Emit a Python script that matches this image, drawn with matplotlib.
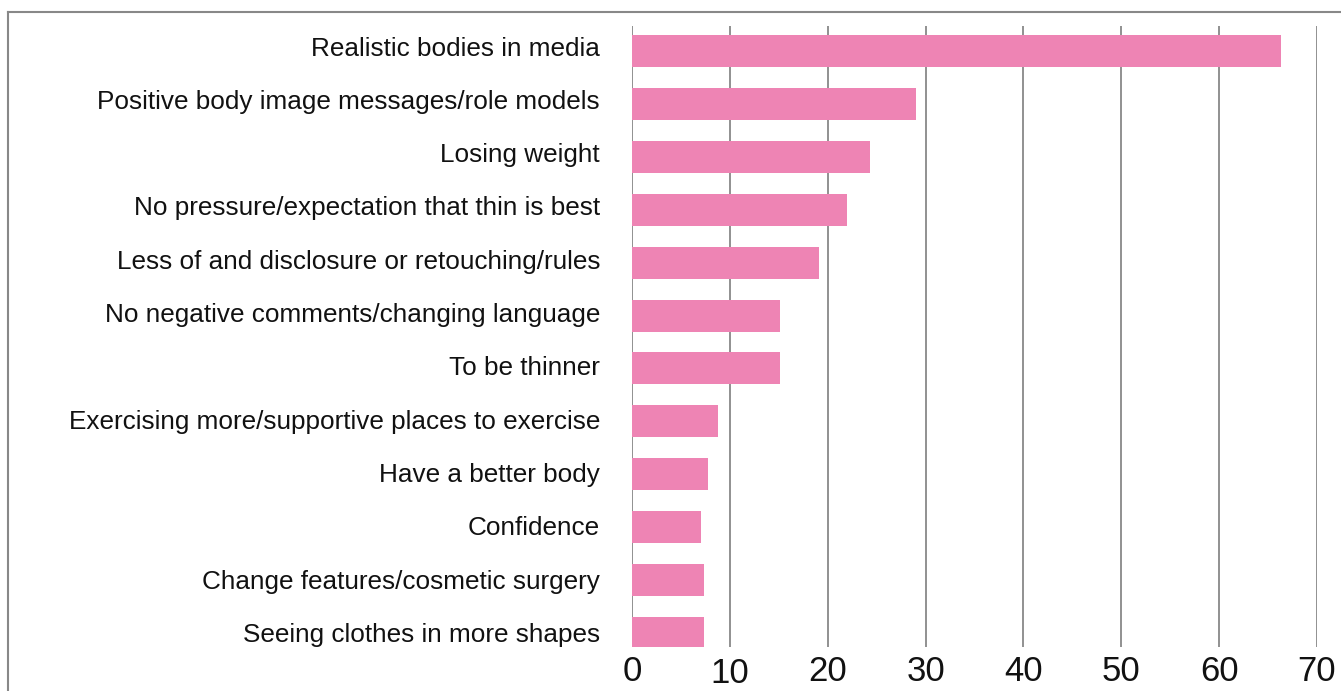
import matplotlib.pyplot as plt
from matplotlib.lines import Line2D
from matplotlib.transforms import ScaledTranslation

categories = [
    "Realistic bodies in media",
    "Positive body image messages/role models",
    "Losing weight",
    "No pressure/expectation that thin is best",
    "Less of and disclosure or retouching/rules",
    "No negative comments/changing language",
    "To be thinner",
    "Exercising more/supportive places to exercise",
    "Have a better body",
    "Confidence",
    "Change features/cosmetic surgery",
    "Seeing clothes in more shapes",
]
values = [66.3, 29.0, 24.3, 22.0, 19.1, 15.1, 15.1, 8.8, 7.8, 7.0, 7.4, 7.4]
xticks = [0, 10, 20, 30, 40, 50, 60, 70]

plt.rcParams['font.family'] = ['Liberation Sans', 'DejaVu Sans']

fig = plt.figure(figsize=(13.41, 6.91), dpi=100)
ax = fig.add_axes([632 / 1341, 1 - 647 / 691, 685 / 1341, 621 / 691])

ypos = list(range(len(categories)))
ax.barh(ypos, values, height=0.605, color='#EE84B4', zorder=2)

ax.set_xlim(0, 70)
ax.set_ylim(11.265, -0.473)
ax.set_yticks(ypos)
ax.set_yticklabels(categories, fontsize=18.8, color='#111111')
ax.set_xticks(xticks)
ax.set_xticklabels([str(t) for t in xticks], fontsize=25, color='#111111')
ax.tick_params(axis='y', length=0, pad=23)
ax.tick_params(axis='x', length=0, pad=6)

ax.grid(axis='x', color='#888888', linewidth=1.3, zorder=1)
ax.set_axisbelow(True)
for s in ax.spines.values():
    s.set_visible(False)

# category labels are spaced a touch wider than the bars in the original
for i, t in enumerate(ax.get_yticklabels()):
    dy = (5 - 0.4 * i) / 100
    t.set_transform(t.get_transform() + ScaledTranslation(0, dy, fig.dpi_scale_trans))

# the "10" label sits a little lower in the original
lbl = ax.get_xticklabels()[1]
lbl.set_transform(lbl.get_transform() + ScaledTranslation(0, -2 / 100, fig.dpi_scale_trans))

# frame around the chart (runs off the right and bottom edge)
fig.add_artist(Line2D([8 / 1341, 1.01], [1 - 12 / 691, 1 - 12 / 691],
                      transform=fig.transFigure, color='#888888', linewidth=1.5))
fig.add_artist(Line2D([8 / 1341, 8 / 1341], [1 - 12 / 691, -0.01],
                      transform=fig.transFigure, color='#888888', linewidth=1.5))

fig.savefig('out.png', dpi=100)
